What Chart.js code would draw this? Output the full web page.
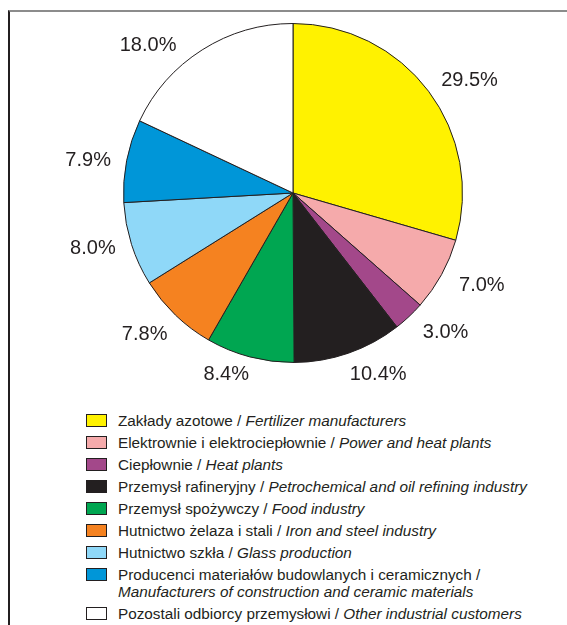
<!DOCTYPE html>
<html>
<head>
<meta charset="utf-8">
<script src="https://cdn.jsdelivr.net/npm/chart.js@4.4.1/dist/chart.umd.min.js"></script>
<style>
  body { margin: 0; background: #fff; font-family: "Liberation Sans", Arial, sans-serif; color: #231f20; }
  #frame { position: absolute; left: 8px; top: 10px; width: 559px; height: 615px;
    border-top: 2px solid #8c8c8c; border-left: 2px solid #231f20; box-sizing: border-box; }
  #wrap { position: absolute; left: 0; top: 0; width: 567px; height: 400px; }
  #legend { position: absolute; left: 86px; top: 409.5px; width: 470px; font-size: 15.3px; }
  .row { display: flex; align-items: flex-start; padding: 2.5px 0; line-height: 17px; }
  .box { flex: none; width: 19px; height: 11px; border: 1.5px solid #231f20; margin-top: 1.5px; margin-right: 11px; }
  .txt { width: 432px; }
  .txt i { font-style: italic; }
</style>
</head>
<body>
<div id="frame"></div>
<div id="wrap"><canvas id="chart"></canvas></div>
<div id="legend"></div>
<script>
const plLabels = ["Zakłady azotowe", "Elektrownie i elektrociepłownie", "Ciepłownie", "Przemysł rafineryjny",
  "Przemysł spożywczy", "Hutnictwo żelaza i stali", "Hutnictwo szkła",
  "Producenci materiałów budowlanych i ceramicznych", "Pozostali odbiorcy przemysłowi"];
const enLabels = ["Fertilizer manufacturers", "Power and heat plants", "Heat plants",
  "Petrochemical and oil refining industry", "Food industry", "Iron and steel industry",
  "Glass production", "Manufacturers of construction and ceramic materials", "Other industrial customers"];
const shares = [29.5, 7.0, 3.0, 10.4, 8.4, 7.8, 8.0, 7.9, 18.0];
const colors = ["#fff200", "#f5aaab", "#a3488a", "#231f20", "#00a651", "#f58220", "#8fd8f8", "#0096d8", "#ffffff"];

// hand placement of the percentage labels (px nudges from the radial spot)
const labelNudge = [[17, 7], [14, -4], [16, -6], [20, -7], [-16, -11], [-10, -2], [-10, -5], [-9, 5], [-38, 21]];

const pctLabels = {
  id: "pctLabels",
  afterDatasetsDraw(chart) {
    const ctx = chart.ctx;
    const arcs = chart.getDatasetMeta(0).data;
    ctx.save();
    ctx.font = "20px 'Liberation Sans', Arial, sans-serif";
    ctx.fillStyle = "#231f20";
    ctx.textAlign = "center";
    ctx.textBaseline = "middle";
    arcs.forEach((arc, i) => {
      const mid = (arc.startAngle + arc.endAngle) / 2;
      const r = arc.outerRadius + 30;
      const x = arc.x + Math.cos(mid) * r + labelNudge[i][0];
      const y = arc.y + Math.sin(mid) * r + labelNudge[i][1];
      ctx.fillText(shares[i].toFixed(1) + "%", x, y);
    });
    ctx.restore();
  }
};

new Chart(document.getElementById("chart"), {
  type: "pie",
  data: {
    labels: plLabels,
    datasets: [{
      data: shares,
      backgroundColor: colors,
      borderColor: "#231f20",
      borderWidth: 1
    }]
  },
  options: {
    responsive: true,
    maintainAspectRatio: false,
    animation: false,
    layout: { padding: { left: 123, top: 23, right: 104, bottom: 37 } },
    plugins: { legend: { display: false }, tooltip: { enabled: false } }
  },
  plugins: [pctLabels]
});

const legend = document.getElementById("legend");
plLabels.forEach((pl, i) => {
  const row = document.createElement("div");
  row.className = "row";
  row.innerHTML = `<span class="box" style="background:${colors[i]}"></span>` +
    `<span class="txt">${pl} / <i>${enLabels[i]}</i></span>`;
  legend.appendChild(row);
});
</script>
</body>
</html>
